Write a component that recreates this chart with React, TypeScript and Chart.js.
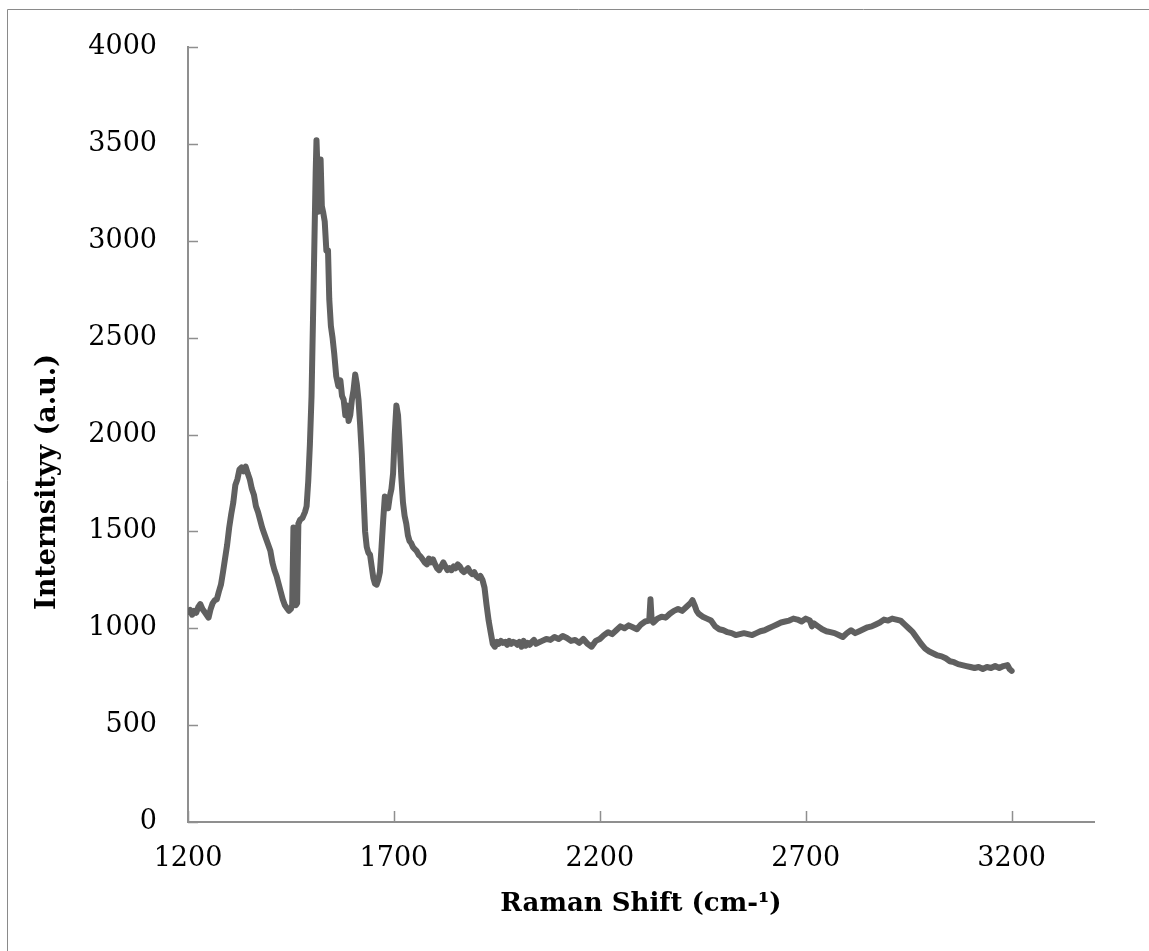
import React, { useEffect, useRef } from "react";
import { Chart, registerables } from "chart.js";

Chart.register(...registerables);

const ramanShift: number[] = [
  1200, 1205, 1210, 1215, 1220, 1225, 1230, 1235, 1240, 1245, 1250, 1255, 1260, 1265, 1270, 1275, 1280, 1285, 1290, 1295,
  1300, 1305, 1310, 1315, 1320, 1325, 1330, 1335, 1340, 1345, 1350, 1355, 1360, 1365, 1370, 1375, 1380, 1385, 1390, 1395,
  1400, 1405, 1410, 1415, 1420, 1425, 1430, 1435, 1440, 1445, 1450, 1453, 1456, 1459, 1462, 1465, 1468, 1472, 1478, 1484,
  1488, 1492, 1496, 1500, 1504, 1507, 1510, 1512, 1514, 1516, 1519, 1522, 1525, 1528, 1532, 1536, 1540, 1543, 1547, 1551,
  1555, 1560, 1565, 1570, 1574, 1578, 1582, 1586, 1590, 1594, 1598, 1602, 1606, 1610, 1614, 1618, 1622, 1626, 1630, 1634,
  1638, 1642, 1646, 1650, 1654, 1658, 1662, 1666, 1670, 1674, 1678, 1682, 1686, 1690, 1694, 1698, 1702, 1706, 1710, 1714,
  1718, 1722, 1726, 1730, 1734, 1738, 1742, 1746, 1750, 1755, 1760, 1765, 1770, 1775, 1780, 1785, 1790, 1795, 1800, 1805,
  1810, 1815, 1820, 1825, 1830, 1835, 1840, 1845, 1850, 1855, 1860, 1865, 1870, 1875, 1880, 1885, 1890, 1895, 1900, 1905,
  1910, 1915, 1920, 1925, 1930, 1935, 1940, 1945, 1950, 1955, 1960, 1965, 1970, 1975, 1980, 1985, 1990, 1995, 2000, 2005,
  2010, 2015, 2020, 2025, 2030, 2035, 2040, 2045, 2050, 2060, 2070, 2080, 2090, 2100, 2110, 2120, 2130, 2140, 2150, 2160,
  2170, 2180, 2190, 2200, 2210, 2220, 2230, 2240, 2250, 2260, 2270, 2280, 2290, 2300, 2310, 2320, 2323, 2326, 2330, 2340,
  2350, 2360, 2370, 2380, 2390, 2400, 2410, 2420, 2425, 2430, 2435, 2440, 2450, 2460, 2470, 2480, 2490, 2500, 2510, 2520,
  2530, 2540, 2550, 2560, 2570, 2580, 2590, 2600, 2610, 2620, 2630, 2640, 2650, 2660, 2670, 2680, 2690, 2700, 2710, 2715,
  2720, 2730, 2740, 2750, 2760, 2770, 2780, 2790, 2800, 2810, 2820, 2830, 2840, 2850, 2860, 2870, 2880, 2890, 2900, 2910,
  2920, 2930, 2940, 2950, 2960, 2970, 2980, 2990, 3000, 3010, 3020, 3030, 3040, 3050, 3060, 3070, 3080, 3090, 3100, 3110,
  3120, 3130, 3140, 3150, 3160, 3170, 3180, 3190, 3195, 3200,
];

const intensity: number[] = [
  1085, 1095, 1070, 1090, 1080, 1110, 1125, 1100, 1085, 1070, 1055, 1100, 1130, 1145, 1150, 1190, 1225, 1290, 1360, 1430,
  1520, 1590, 1650, 1740, 1770, 1820, 1830, 1810, 1835, 1800, 1770, 1720, 1690, 1630, 1600, 1560, 1520, 1490, 1460, 1430,
  1400, 1340, 1300, 1270, 1230, 1190, 1150, 1120, 1105, 1090, 1100, 1120, 1520, 1140, 1120, 1130, 1540, 1560, 1570, 1600,
  1630, 1760, 1950, 2200, 2650, 3000, 3350, 3520, 3400, 3150, 3250, 3420, 3180, 3150, 3100, 2950, 2950, 2700, 2560, 2500,
  2420, 2300, 2250, 2280, 2200, 2180, 2100, 2150, 2070, 2100, 2180, 2230, 2310, 2260, 2180, 2050, 1900, 1700, 1500, 1420,
  1390, 1380, 1320, 1260, 1230, 1225, 1250, 1290, 1420, 1560, 1680, 1640, 1620, 1680, 1720, 1800, 2000, 2150, 2100, 1950,
  1780, 1650, 1580, 1540, 1480, 1450, 1440, 1420, 1410, 1400, 1380, 1370, 1355, 1340, 1330, 1360, 1340, 1355, 1330, 1310,
  1300, 1320, 1340, 1320, 1300, 1310, 1300, 1320, 1310, 1330, 1320, 1300, 1290, 1300, 1310, 1290, 1280, 1290, 1270, 1260,
  1270, 1250, 1210, 1120, 1040, 980, 920, 905, 930, 920, 935, 925, 930, 915, 935, 920, 930, 925, 915, 930,
  905, 935, 910, 925, 915, 930, 940, 920, 925, 935, 945, 940, 955, 945, 960, 950, 935, 940, 925, 945,
  920, 905, 935, 945, 965, 980, 970, 990, 1010, 1000, 1015, 1005, 995, 1020, 1035, 1040, 1150, 1040, 1030, 1050,
  1060, 1055, 1075, 1090, 1100, 1090, 1110, 1130, 1145, 1120, 1090, 1075, 1060, 1050, 1040, 1010, 995, 990, 980, 975,
  965, 970, 975, 970, 965, 975, 985, 990, 1000, 1010, 1020, 1030, 1035, 1040, 1050, 1045, 1035, 1050, 1040, 1010,
  1025, 1010, 995, 985, 980, 975, 965, 955, 975, 990, 975, 985, 995, 1005, 1010, 1020, 1030, 1045, 1040, 1050,
  1045, 1040, 1020, 1000, 980, 950, 920, 895, 880, 870, 860, 855, 845, 830, 825, 815, 810, 805, 800, 795,
  800, 790, 800, 795, 805, 795, 805, 810, 790, 780,
];

const xTicks: number[] = [1200, 1700, 2200, 2700, 3200];
const yTicks: number[] = [0, 500, 1000, 1500, 2000, 2500, 3000, 3500, 4000];

const xTitle = "Raman Shift (cm-¹)";
const yTitle = "Internsityy (a.u.)";

const AXIS_COLOR = "#8f8f8f";
const LINE_COLOR = "#606060";

const decorPlugin = {
  id: "decor",
  beforeDraw(chart: any) {
    const ctx = chart.ctx;
    ctx.save();
    ctx.strokeStyle = "#8a8a8a";
    ctx.lineWidth = 1;
    ctx.beginPath();
    ctx.moveTo(7.5, chart.height);
    ctx.lineTo(7.5, 9.5);
    ctx.lineTo(chart.width, 9.5);
    ctx.stroke();
    ctx.restore();
  },
  afterDatasetsDraw(chart: any) {
    const ctx = chart.ctx;
    const { left, bottom } = chart.chartArea;
    const xs = chart.scales.x;
    const ys = chart.scales.y;
    ctx.save();
    ctx.strokeStyle = AXIS_COLOR;
    ctx.lineWidth = 1.5;
    ctx.beginPath();
    yTicks.forEach((v) => {
      const py = Math.round(ys.getPixelForValue(v)) + 0.5;
      ctx.moveTo(left, py);
      ctx.lineTo(left + 10, py);
    });
    xTicks.forEach((v) => {
      const px = Math.round(xs.getPixelForValue(v)) + 0.5;
      ctx.moveTo(px, bottom);
      ctx.lineTo(px, bottom - 11);
    });
    ctx.stroke();
    // y axis title
    ctx.translate(48, 482);
    ctx.rotate(-Math.PI / 2);
    ctx.fillStyle = "#000";
    ctx.font = "bold 27px 'DejaVu Serif', serif";
    ctx.textAlign = "center";
    ctx.textBaseline = "middle";
    ctx.fillText(yTitle, 0, 0);
    ctx.restore();
  },
};

export default function App() {
  const ref = useRef<HTMLCanvasElement | null>(null);

  useEffect(() => {
    if (!ref.current) return;
    const points = ramanShift.map((x, i) => ({ x, y: intensity[i] }));
    const chart = new Chart(ref.current, {
      type: "line",
      data: {
        datasets: [
          {
            data: points,
            borderColor: LINE_COLOR,
            borderWidth: 6,
            pointRadius: 0,
            tension: 0,
            borderJoinStyle: "round",
            borderCapStyle: "round",
            fill: false,
          },
        ],
      },
      options: {
        animation: false,
        responsive: false,
        events: [],
        layout: { padding: { left: 0, top: 43, right: 55, bottom: 0 } },
        plugins: {
          legend: { display: false },
          tooltip: { enabled: false },
          title: { display: false },
        },
        scales: {
          x: {
            type: "linear",
            min: 1200,
            max: 3400,
            afterBuildTicks: (s: any) => {
              s.ticks = xTicks.map((v) => ({ value: v }));
            },
            afterFit: (s: any) => {
              s.height = 951 - 822;
            },
            grid: { display: false, drawTicks: false },
            border: { display: true, color: AXIS_COLOR, width: 2 },
            ticks: {
              color: "#000",
              padding: 21,
              maxRotation: 0,
              callback: (v: any) => String(v),
              font: { family: "'DejaVu Serif', serif", size: 27 },
            },
            title: {
              display: true,
              text: xTitle,
              color: "#000",
              padding: { top: 0, bottom: 31 },
              font: { family: "'DejaVu Serif', serif", size: 26, weight: "bold" },
            },
          },
          y: {
            type: "linear",
            min: 0,
            max: 4000,
            afterBuildTicks: (s: any) => {
              s.ticks = yTicks.map((v) => ({ value: v }));
            },
            afterFit: (s: any) => {
              s.width = 188;
            },
            grid: { display: false, drawTicks: false },
            border: { display: true, color: AXIS_COLOR, width: 2 },
            ticks: {
              color: "#000",
              padding: 31,
              callback: (v: any) => String(v),
              font: { family: "'DejaVu Serif', serif", size: 27 },
            },
            title: { display: false },
          },
        },
      },
      plugins: [decorPlugin],
    });
    return () => chart.destroy();
  }, []);

  return (
    <div style={{ position: "absolute", left: 0, top: 0, width: 1149, height: 951, background: "#fff" }}>
      <canvas ref={ref} width={1149} height={951} style={{ display: "block" }} />
    </div>
  );
}
